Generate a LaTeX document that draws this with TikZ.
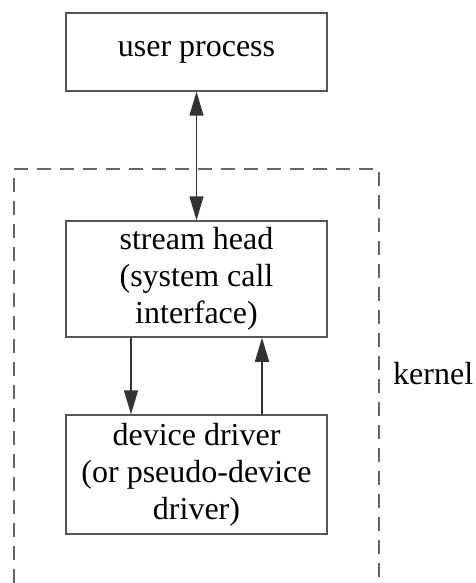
\documentclass[tikz,border=0pt]{standalone}
\usepackage{fontspec}
\setmainfont{Liberation Serif}
\usetikzlibrary{arrows.meta}
\definecolor{boxline}{HTML}{555555}
\definecolor{dashline}{HTML}{666666}
\tikzset{
  box/.style={draw=boxline, line width=1.5pt, minimum width=261pt, align=center, inner sep=0pt,
    font=\fontsize{32}{37}\selectfont},
  arr/.style={draw=black!80, line width=1.5pt, -{Triangle[length=24pt,width=14pt]}},
  darr/.style={draw=black!80, line width=1.5pt, {Triangle[length=24pt,width=14pt]}-{Triangle[length=24pt,width=14pt]}},
  frame/.style={draw=dashline, line width=2pt, dash pattern=on 14pt off 9pt},
  lbl/.style={font=\fontsize{32}{37}\selectfont, inner sep=0pt, anchor=base west}
}
\begin{document}
\begin{tikzpicture}[x=1pt,y=-1pt]
\useasboundingbox (0,0) rectangle (475,583);
\fill[white] (0,0) rectangle (475,583);
\draw[frame] (14,583) -- (14,169) -- (379,169) -- (379,583);
\node[box, minimum height=78pt] (up) at (196.5,52) {user process};
\node[box, minimum height=116pt] (sh) at (196.5,279) {stream head\\(system call\\interface)};
\node[box, minimum height=119pt] (dd) at (196.5,474.5) {device driver\\(or pseudo-device\\driver)};
\node[lbl] (k) at (393,384) {kernel};
\draw[darr] (up.south) -- (sh.north);
\draw[arr] ([xshift=-65.5pt]sh.south) -- ([xshift=-65.5pt]dd.north);
\draw[arr] ([xshift=65.5pt]dd.north) -- ([xshift=65.5pt]sh.south);
\end{tikzpicture}
\end{document}
